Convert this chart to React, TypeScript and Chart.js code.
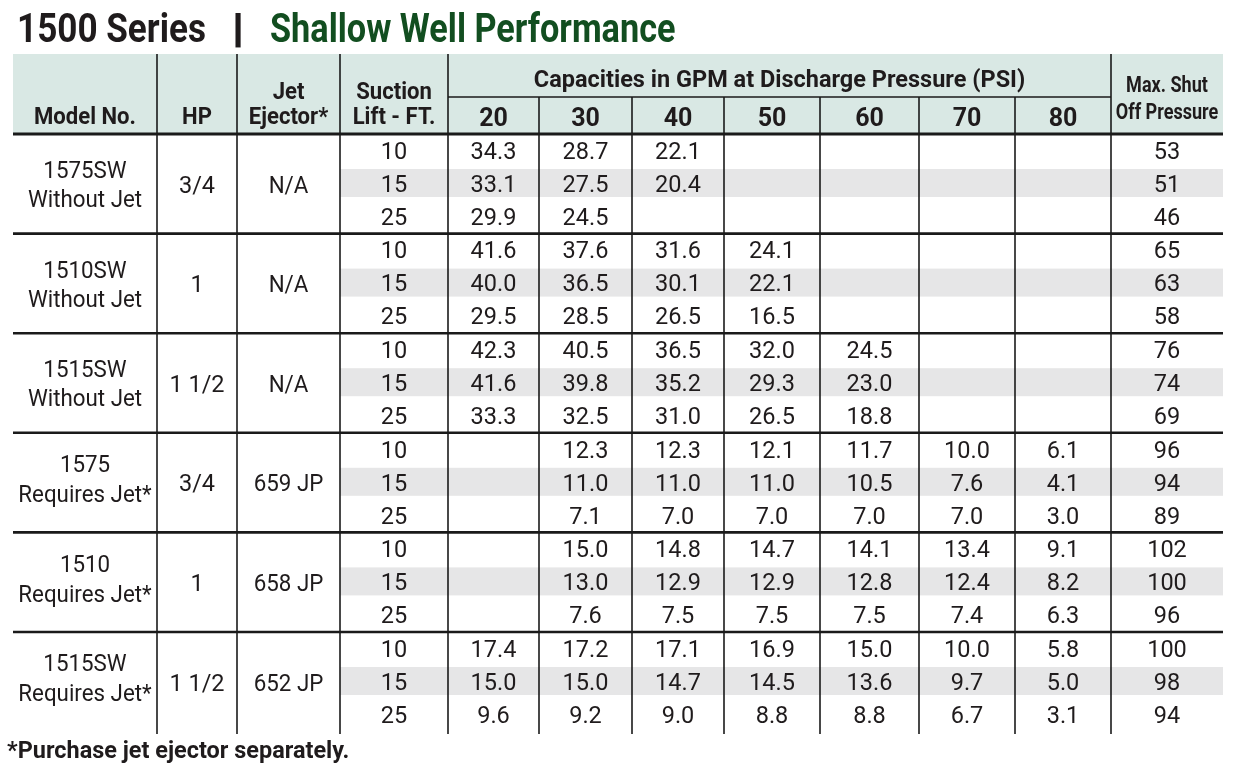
import React, { useEffect, useRef } from "react";
import { Chart, registerables } from "chart.js";

Chart.register(...registerables);

// ---------------- DATA ----------------
const titleLeft = "1500 Series";
const titleSep = "|";
const titleRight = "Shallow Well Performance";
const footnote = "*Purchase jet ejector separately.";

const headerModel = "Model No.";
const headerHp = "HP";
const headerJet = ["Jet", "Ejector*"];
const headerSuction = ["Suction", "Lift - FT."];
const headerCapacities = "Capacities in GPM at Discharge Pressure (PSI)";
const headerMaxShut = ["Max. Shut", "Off Pressure"];

const modelNumbers = ["1575SW", "1510SW", "1515SW", "1575", "1510", "1515SW"];
const modelNotes = ["Without Jet", "Without Jet", "Without Jet", "Requires Jet*", "Requires Jet*", "Requires Jet*"];
const horsepower = ["3/4", "1", "1 1/2", "3/4", "1", "1 1/2"];
const jetEjectors = ["N/A", "N/A", "N/A", "659 JP", "658 JP", "652 JP"];
const suctionLifts = [10, 15, 25];
const pressures = [20, 30, 40, 50, 60, 70, 80];

// one row per (model, suction lift); columns follow `pressures`
const capacities: (number | null)[][] = [
  [34.3, 28.7, 22.1, null, null, null, null],
  [33.1, 27.5, 20.4, null, null, null, null],
  [29.9, 24.5, null, null, null, null, null],
  [41.6, 37.6, 31.6, 24.1, null, null, null],
  [40.0, 36.5, 30.1, 22.1, null, null, null],
  [29.5, 28.5, 26.5, 16.5, null, null, null],
  [42.3, 40.5, 36.5, 32.0, 24.5, null, null],
  [41.6, 39.8, 35.2, 29.3, 23.0, null, null],
  [33.3, 32.5, 31.0, 26.5, 18.8, null, null],
  [null, 12.3, 12.3, 12.1, 11.7, 10.0, 6.1],
  [null, 11.0, 11.0, 11.0, 10.5, 7.6, 4.1],
  [null, 7.1, 7.0, 7.0, 7.0, 7.0, 3.0],
  [null, 15.0, 14.8, 14.7, 14.1, 13.4, 9.1],
  [null, 13.0, 12.9, 12.9, 12.8, 12.4, 8.2],
  [null, 7.6, 7.5, 7.5, 7.5, 7.4, 6.3],
  [17.4, 17.2, 17.1, 16.9, 15.0, 10.0, 5.8],
  [15.0, 15.0, 14.7, 14.5, 13.6, 9.7, 5.0],
  [9.6, 9.2, 9.0, 8.8, 8.8, 6.7, 3.1],
];
const maxShutoff = [53, 51, 46, 65, 63, 58, 76, 74, 69, 96, 94, 89, 102, 100, 96, 100, 98, 94];

// ---------------- LAYOUT (scale units) ----------------
const W = 1233;
const H = 775;
const colEdges = [13, 157, 237, 340, 448, 539, 632, 724, 820, 919, 1015, 1111, 1223];
const headerTop = 54;
const subHeaderLine = 97;
const headerBottom = 134;
const groupHeight = 99.6;
const rowHeight = 33;
const tableBottom = 734;

const TEXT = "#1f1b1c";
const GREEN = "#124e20";
const HEADER_BG = "#d9e8e4";
const STRIPE = "#e6e6e7";
const LINE = "#1a1a1a";

type StyleKey = "title" | "titleGreen" | "sep" | "head" | "headWide" | "headNarrow" | "press" | "num" | "word" | "foot";
const styles: Record<StyleKey, { size: number; weight: number; color: string; sx: number; align: CanvasTextAlign }> = {
  title: { size: 41, weight: 700, color: TEXT, sx: 0.856, align: "left" },
  titleGreen: { size: 41, weight: 700, color: GREEN, sx: 0.836, align: "left" },
  sep: { size: 41, weight: 700, color: TEXT, sx: 1.5, align: "center" },
  head: { size: 23.5, weight: 700, color: TEXT, sx: 0.94, align: "center" },
  headWide: { size: 23.5, weight: 700, color: TEXT, sx: 1.0, align: "center" },
  headNarrow: { size: 22, weight: 700, color: TEXT, sx: 0.82, align: "center" },
  press: { size: 25, weight: 700, color: TEXT, sx: 1, align: "center" },
  num: { size: 23.5, weight: 400, color: TEXT, sx: 1, align: "center" },
  word: { size: 23.5, weight: 400, color: TEXT, sx: 0.95, align: "center" },
  foot: { size: 23, weight: 700, color: TEXT, sx: 1.02, align: "left" },
};

type Item = { x: number; y: number; text: string; style: StyleKey };

const mid = (i: number) => (colEdges[i] + colEdges[i + 1]) / 2;
const groupTop = (g: number) => headerBottom + g * groupHeight;

function buildItems(): Item[] {
  const items: Item[] = [];
  items.push({ x: 17, y: 27.5, text: titleLeft, style: "title" });
  items.push({ x: 238, y: 27.5, text: titleSep, style: "sep" });
  items.push({ x: 270, y: 27.5, text: titleRight, style: "titleGreen" });

  items.push({ x: mid(0), y: 116, text: headerModel, style: "head" });
  items.push({ x: mid(1), y: 116, text: headerHp, style: "head" });
  items.push({ x: mid(2), y: 91, text: headerJet[0], style: "head" });
  items.push({ x: mid(2), y: 116, text: headerJet[1], style: "head" });
  items.push({ x: mid(3), y: 91, text: headerSuction[0], style: "head" });
  items.push({ x: mid(3), y: 116, text: headerSuction[1], style: "head" });
  items.push({ x: (colEdges[4] + colEdges[11]) / 2, y: 78.5, text: headerCapacities, style: "headWide" });
  pressures.forEach((p, i) => items.push({ x: mid(4 + i), y: 117, text: String(p), style: "press" }));
  items.push({ x: mid(11), y: 84, text: headerMaxShut[0], style: "headNarrow" });
  items.push({ x: mid(11), y: 111, text: headerMaxShut[1], style: "headNarrow" });

  modelNumbers.forEach((m, g) => {
    const gc = groupTop(g) + groupHeight / 2;
    const requiresJet = modelNotes[g].indexOf("Requires") === 0;
    const up = requiresJet ? 19 : 14;
    const down = requiresJet ? 11 : 15;
    items.push({ x: mid(0), y: gc - up, text: m, style: "word" });
    items.push({ x: mid(0), y: gc + down, text: modelNotes[g], style: "word" });
    items.push({ x: mid(1), y: gc + 0.5, text: horsepower[g], style: "num" });
    items.push({ x: mid(2), y: gc + 0.5, text: jetEjectors[g], style: "word" });
    suctionLifts.forEach((s, r) => {
      const row = g * suctionLifts.length + r;
      const cy = groupTop(g) + 16.5 + r * rowHeight;
      items.push({ x: mid(3), y: cy, text: String(s), style: "num" });
      capacities[row].forEach((v, c) => {
        if (v !== null) items.push({ x: mid(4 + c), y: cy, text: v.toFixed(1), style: "num" });
      });
      items.push({ x: mid(11), y: cy, text: String(maxShutoff[row]), style: "num" });
    });
  });

  items.push({ x: 7, y: 750, text: footnote, style: "foot" });
  return items;
}

const tablePlugin = {
  id: "tablePlugin",
  beforeDatasetsDraw(chart: any) {
    const { ctx } = chart;
    const xs = chart.scales.x;
    const ys = chart.scales.y;
    const X = (v: number) => xs.getPixelForValue(v);
    const Y = (v: number) => ys.getPixelForValue(v);
    const rect = (x0: number, y0: number, x1: number, y1: number, color: string) => {
      ctx.fillStyle = color;
      ctx.fillRect(X(x0), Y(y0), X(x1) - X(x0), Y(y1) - Y(y0));
    };
    const line = (x0: number, y0: number, x1: number, y1: number, w: number) => {
      ctx.lineWidth = w;
      ctx.strokeStyle = LINE;
      ctx.beginPath();
      ctx.moveTo(X(x0), Y(y0));
      ctx.lineTo(X(x1), Y(y1));
      ctx.stroke();
    };
    ctx.save();
    ctx.fillStyle = "#ffffff";
    ctx.fillRect(0, 0, chart.width, chart.height);
    rect(colEdges[0], headerTop, colEdges[12], headerBottom, HEADER_BG);
    modelNumbers.forEach((_, g) => {
      const t = groupTop(g);
      rect(colEdges[3], t + 35, colEdges[12], t + 63, STRIPE);
    });
    for (let i = 1; i <= 11; i++) {
      const top = i >= 5 && i <= 10 ? subHeaderLine : headerTop;
      line(colEdges[i], top, colEdges[i], tableBottom, 1.6);
    }
    line(colEdges[4], subHeaderLine, colEdges[11], subHeaderLine, 1.6);
    modelNumbers.forEach((_, g) => {
      line(colEdges[0], groupTop(g), colEdges[12], groupTop(g), g === 0 ? 3 : 2.6);
    });
    ctx.restore();
  },
  afterDatasetsDraw(chart: any) {
    const { ctx } = chart;
    const meta = chart.getDatasetMeta(0);
    const items: Item[] = chart.data.datasets[0].items;
    ctx.save();
    meta.data.forEach((el: any, i: number) => {
      const it = items[i];
      const st = styles[it.style];
      ctx.font = `${st.weight} ${st.size}px Roboto, "Liberation Sans", sans-serif`;
      ctx.fillStyle = st.color;
      ctx.textAlign = st.align;
      ctx.textBaseline = "alphabetic";
      const baseline = el.y + (st.size * 0.711) / 2;
      ctx.save();
      ctx.translate(el.x, baseline);
      ctx.scale(st.sx, 1);
      ctx.fillText(it.text, 0, 0);
      ctx.restore();
    });
    ctx.restore();
  },
};

export default function App() {
  const canvasRef = useRef<HTMLCanvasElement | null>(null);

  useEffect(() => {
    document.body.style.margin = "0";
    document.body.style.overflow = "hidden";
    const canvas = canvasRef.current;
    if (!canvas) return;
    const items = buildItems();
    const chart = new Chart(canvas, {
      type: "scatter",
      data: {
        datasets: [
          {
            data: items.map((it) => ({ x: it.x, y: it.y })),
            items,
            pointRadius: 0,
            pointHoverRadius: 0,
            showLine: false,
          } as any,
        ],
      },
      options: {
        animation: false,
        responsive: false,
        devicePixelRatio: 1,
        layout: { padding: 0 },
        events: [],
        plugins: { legend: { display: false }, tooltip: { enabled: false }, title: { display: false } },
        scales: {
          x: { type: "linear", min: 0, max: W, display: false },
          y: { type: "linear", min: 0, max: H, reverse: true, display: false },
        },
      },
      plugins: [tablePlugin],
    });
    return () => chart.destroy();
  }, []);

  return (
    <div style={{ width: W, height: H, background: "#fff" }}>
      <canvas ref={canvasRef} width={W} height={H} style={{ display: "block" }} />
    </div>
  );
}
